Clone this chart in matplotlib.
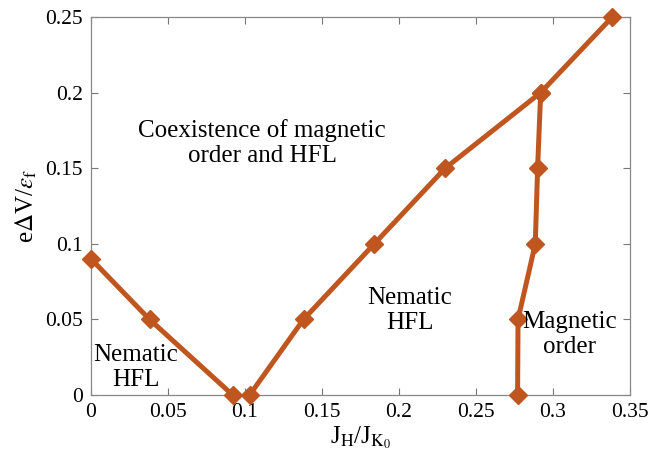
import matplotlib
matplotlib.use("Agg")
import matplotlib.pyplot as plt

plt.rcParams['font.family'] = ['Liberation Serif', 'DejaVu Serif']
plt.rcParams['mathtext.fontset'] = 'stix'

# Data
line1_x = [0.0, 0.038, 0.092]
line1_y = [0.09, 0.05, 0.0]
line2_x = [0.103, 0.138, 0.184, 0.230, 0.292, 0.3385]
line2_y = [0.0, 0.05, 0.10, 0.15, 0.20, 0.25]
line3_x = [0.277, 0.2773, 0.2885, 0.290, 0.292]
line3_y = [0.0, 0.05, 0.10, 0.15, 0.20]

xticks = [0, 0.05, 0.1, 0.15, 0.2, 0.25, 0.3, 0.35]
xticklabels = ['0', '0.05', '0.1', '0.15', '0.2', '0.25', '0.3', '0.35']
yticks = [0, 0.05, 0.1, 0.15, 0.2, 0.25]
yticklabels = ['0', '0.05', '0.1', '0.15', '0.2', '0.25']

color = '#C0561F'

fig = plt.figure(figsize=(6.61, 4.66), dpi=100)
ax = fig.add_axes([91/661, 1 - 395/466, (630-91)/661, (395-17)/466])

for xs, ys in [(line1_x, line1_y), (line2_x, line2_y), (line3_x, line3_y)]:
    ax.plot(xs, ys, color=color, lw=3.6, marker='D', ms=9.5, mfc=color, mec=color,
            clip_on=False, zorder=3)

ax.set_xlim(0, 0.35)
ax.set_ylim(0, 0.25)
ax.set_xticks(xticks)
ax.set_xticklabels(xticklabels)
ax.set_yticks(yticks)
ax.set_yticklabels(yticklabels)
ax.tick_params(direction='in', length=5, width=0.8, colors='#777777', labelsize=15.5,
               labelcolor='black', pad=6, top=True, right=True)
for s in ax.spines.values():
    s.set_color('#888888')
    s.set_linewidth(0.9)

ax.set_xlabel(r'J$_{\rm H}$/J$_{\rm K_0}$', fontsize=18, labelpad=1)
ax.set_ylabel(r'e$\Delta$V/$\epsilon_{\rm f}$', fontsize=18, labelpad=4)

kw = dict(fontsize=18, ha='center', va='center', linespacing=1.2)
ax.text(0.111, 0.1665, 'Coexistence of magnetic\norder and HFL', **kw)
ax.text(0.207, 0.056, 'Nematic\nHFL', **kw)
ax.text(0.311, 0.040, 'Magnetic\norder', **kw)
ax.text(0.029, 0.018, 'Nematic\nHFL', **kw)

fig.savefig('out.png', dpi=100)
